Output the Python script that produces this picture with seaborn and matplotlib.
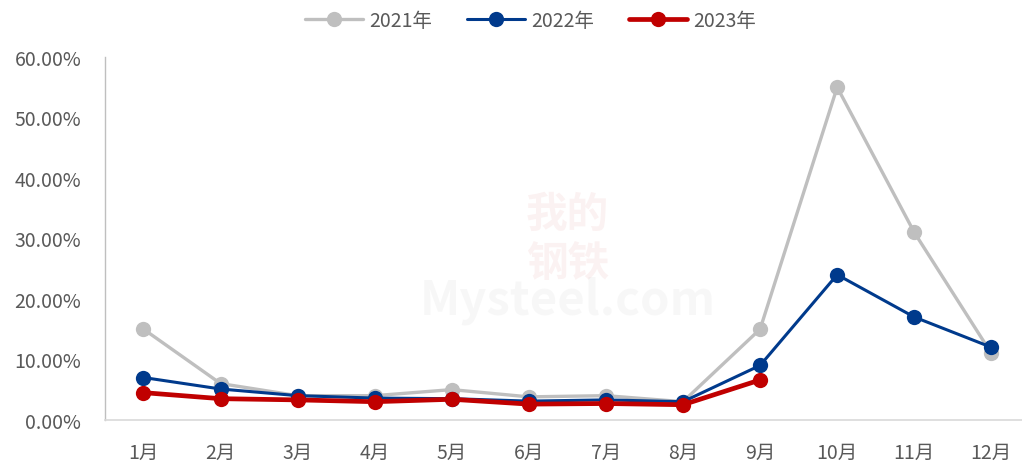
import pandas as pd
import matplotlib
matplotlib.use('Agg')
import matplotlib.pyplot as plt
from matplotlib.ticker import FuncFormatter, FixedLocator
import seaborn as sns

months = ['1月', '2月', '3月', '4月', '5月', '6月', '7月', '8月', '9月', '10月', '11月', '12月']
y2021 = [15.0, 6.0, 4.0, 4.0, 5.0, 3.8, 4.0, 3.0, 15.0, 55.0, 31.0, 11.0]
y2022 = [7.0, 5.1, 4.0, 3.6, 3.5, 3.1, 3.3, 3.0, 9.0, 24.0, 17.0, 12.0]
y2023 = [4.5, 3.5, 3.3, 3.0, 3.4, 2.6, 2.7, 2.5, 6.6]

sns.set_style('white')
plt.rcParams['font.family'] = ['Noto Sans CJK SC', 'DejaVu Sans']

fig = plt.figure(figsize=(10.22, 4.64), dpi=100)
ax = fig.add_axes([0.1027, 0.093, 0.905, 0.782])

# 水印
ax.text(0.5, 0.5, '我的\n钢铁', transform=ax.transAxes, ha='center', va='center',
        fontsize=30, color='#c00000', alpha=0.05, fontweight='bold')
ax.text(0.5, 0.33, 'Mysteel.com', transform=ax.transAxes, ha='center', va='center',
        fontsize=34, color='#808080', alpha=0.06, fontweight='bold')

series = [
    ('2021年', y2021, '#BFBFBF', 2.4),
    ('2022年', y2022, '#003A8C', 2.2),
    ('2023年', y2023, '#C00000', 3.4),
]
for name, vals, color, lw in series:
    sns.lineplot(x=months[:len(vals)], y=vals, ax=ax, color=color, linewidth=lw,
                 marker='o', markersize=11, markeredgewidth=0, label=name)

ax.set_xlim(-0.5, 11.5)
ax.set_ylim(0, 60)
ax.set_yticks(range(0, 61, 10))
ax.yaxis.set_major_formatter(FuncFormatter(lambda v, p: f'{v:.2f}%'))
ax.xaxis.set_minor_locator(FixedLocator([i - 0.5 for i in range(13)]))
ax.tick_params(axis='x', which='major', length=0, pad=16, labelsize=14, labelcolor='#595959')
ax.tick_params(axis='x', which='minor', length=6, color='#D9D9D9', width=1, direction='out')
ax.tick_params(axis='y', which='major', length=5, color='#BFBFBF', width=1, direction='out',
               labelsize=14, labelcolor='#595959', pad=12)

for s in ['top', 'right']:
    ax.spines[s].set_visible(False)
ax.spines['left'].set_color('#BFBFBF')
ax.spines['bottom'].set_color('#D9D9D9')
ax.spines['left'].set_linewidth(1)
ax.spines['bottom'].set_linewidth(1.2)
ax.set_xlabel('')
ax.set_ylabel('')

ax.legend(loc='upper center', bbox_to_anchor=(0.46, 1.178), ncol=3, frameon=False,
          fontsize=14, labelcolor='#595959', handlelength=3, columnspacing=1.8,
          handletextpad=0.3)

fig.savefig('out.png', dpi=100)
